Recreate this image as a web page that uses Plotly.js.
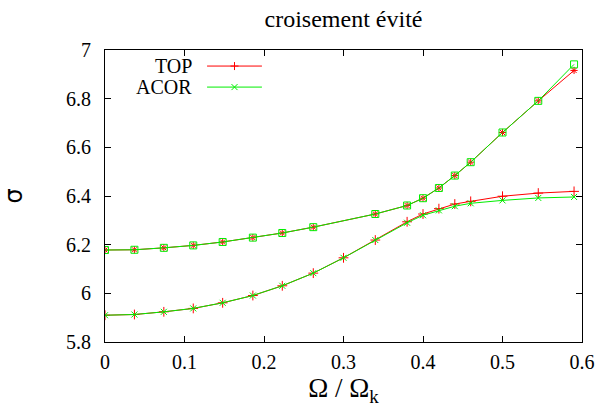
<!DOCTYPE html>
<html><head><meta charset="utf-8">
<script src="https://cdn.plot.ly/plotly-3.0.1.min.js"></script>
<style>body{margin:0;background:#fff}#c{width:599px;height:410px}</style>
</head><body><div id="c"></div>
<script>
// Upper branch
const xUpper = [0, 0.037, 0.074, 0.111, 0.148, 0.186, 0.223, 0.262, 0.34, 0.38, 0.40, 0.42, 0.44, 0.46, 0.50, 0.545, 0.59];
const topUpper  = [6.178, 6.179, 6.187, 6.197, 6.211, 6.229, 6.248, 6.272, 6.326, 6.361, 6.391, 6.433, 6.484, 6.539, 6.661, 6.791, 6.916];
const acorUpper = [6.178, 6.179, 6.187, 6.197, 6.211, 6.229, 6.248, 6.272, 6.326, 6.361, 6.391, 6.433, 6.484, 6.539, 6.661, 6.791, 6.941];
// Lower branch
const xLower = [0, 0.037, 0.074, 0.111, 0.148, 0.186, 0.223, 0.262, 0.30, 0.34, 0.38, 0.40, 0.42, 0.44, 0.46, 0.50, 0.545, 0.59];
const topLower  = [5.910, 5.913, 5.924, 5.938, 5.961, 5.991, 6.031, 6.083, 6.146, 6.219, 6.294, 6.326, 6.348, 6.367, 6.378, 6.399, 6.412, 6.419];
const acorLower = [5.910, 5.913, 5.924, 5.938, 5.961, 5.991, 6.031, 6.083, 6.146, 6.219, 6.290, 6.321, 6.341, 6.358, 6.370, 6.382, 6.392, 6.396];
const seriesNames = ["TOP", "ACOR"];
const xTicks = [0, 0.1, 0.2, 0.3, 0.4, 0.5, 0.6];
const yTicks = [5.8, 6, 6.2, 6.4, 6.6, 6.8, 7];

const RED = "#ff0000", GREEN = "#00ee00";
const font = "Liberation Serif";

const traces = [
  {x: xLower, y: topLower, mode: "lines+markers", line: {color: RED, width: 1},
   marker: {symbol: "cross-thin-open", size: 7, color: RED, line: {color: RED, width: 1}}},
  {x: xLower, y: acorLower, mode: "lines+markers", line: {color: GREEN, width: 1},
   marker: {symbol: "x-thin-open", size: 6, color: GREEN, line: {color: GREEN, width: 1}}},
  {x: xUpper, y: topUpper, mode: "lines+markers", line: {color: RED, width: 1},
   marker: {symbol: "asterisk-open", size: 6, color: RED, line: {color: RED, width: 1}}},
  {x: xUpper, y: acorUpper, mode: "lines+markers", line: {color: GREEN, width: 1},
   marker: {symbol: "square-open", size: 7, color: GREEN, line: {color: GREEN, width: 1}}}
];

const legY = [0.945, 0.873];
const legColors = [RED, GREEN];
const legPaths = ["M-4,0H4M0,-4V4", "M-3,-3L3,3M-3,3L3,-3"];
const shapes = [], annotations = [];
seriesNames.forEach((n, i) => {
  shapes.push({type: "line", xref: "paper", yref: "paper", x0: 0.214, x1: 0.329, y0: legY[i], y1: legY[i],
    line: {color: legColors[i], width: 1}});
  shapes.push({type: "path", xref: "paper", yref: "paper", xsizemode: "pixel", ysizemode: "pixel",
    xanchor: 0.2715, yanchor: legY[i], path: legPaths[i], line: {color: legColors[i], width: 1}});
  annotations.push({text: n, xref: "paper", yref: "paper", x: 0.187, y: legY[i], xanchor: "right", yanchor: "middle",
    showarrow: false, font: {family: font, size: 20, color: "#000"}});
});

const axisCommon = {
  showline: true, linecolor: "#000", linewidth: 1, mirror: "allticks",
  ticks: "inside", ticklen: 6, tickcolor: "#000", tickwidth: 1,
  showgrid: false, zeroline: false, tickfont: {family: font, size: 20, color: "#000"}
};

const layout = {
  width: 599, height: 410,
  margin: {l: 105, r: 17, t: 50, b: 68},
  paper_bgcolor: "#fff", plot_bgcolor: "#fff",
  showlegend: false,
  font: {family: font},
  title: {text: "croisement évité", font: {family: font, size: 24, color: "#000"}, x: 0.5735, xanchor: "center", y: 0.955, yanchor: "middle"},
  xaxis: Object.assign({}, axisCommon, {range: [0, 0.6], tickvals: xTicks, ticktext: xTicks.map(String),
    ticklabelstandoff: 2,
    title: {text: "Ω / Ω<sub>k</sub>", font: {family: font, size: 27, color: "#000"}, standoff: 2}}),
  yaxis: Object.assign({}, axisCommon, {range: [5.8, 7], tickvals: yTicks, ticktext: yTicks.map(String),
    ticklabelstandoff: 9,
    title: {text: "σ", font: {family: "DejaVu Sans", size: 24, color: "#000"}, standoff: 38}}),
  shapes: shapes, annotations: annotations
};

Plotly.newPlot("c", traces, layout, {displayModeBar: false, staticPlot: true});
</script></body></html>
